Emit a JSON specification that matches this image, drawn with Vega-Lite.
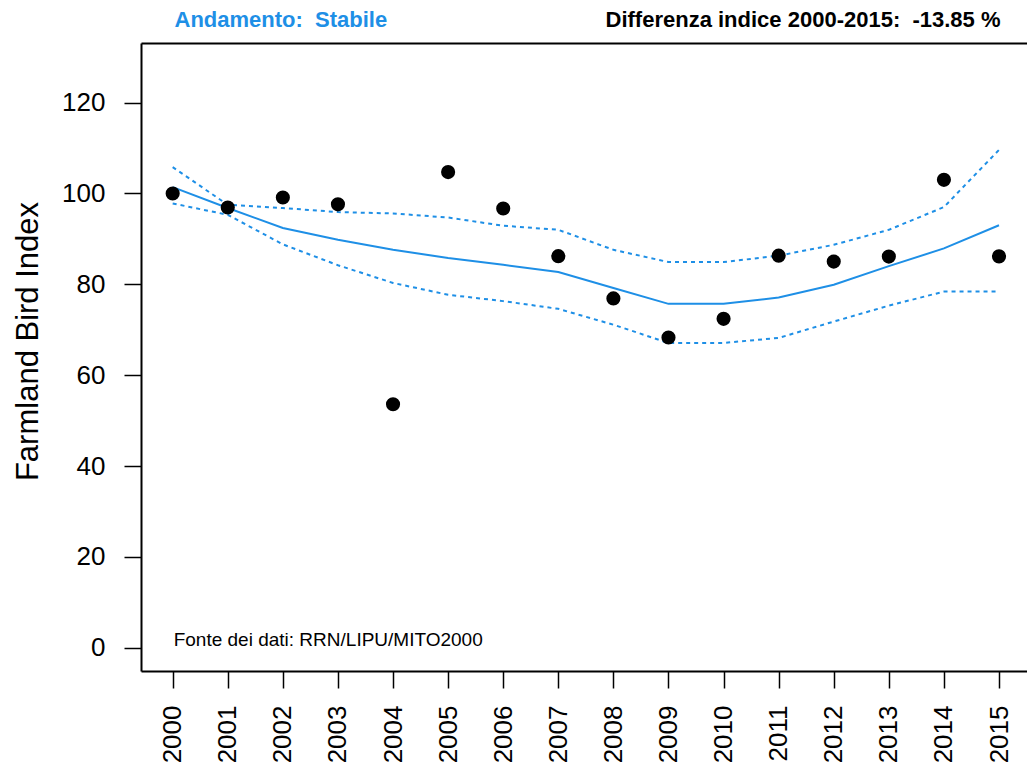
{
  "$schema": "https://vega.github.io/schema/vega-lite/v6.json",
  "width": 886,
  "height": 628,
  "autosize": {"type": "none"},
  "padding": {"left": 141, "top": 43, "right": 0, "bottom": 98},
  "background": "white",
  "config": {
    "view": {"stroke": null},
    "font": "Liberation Sans",
    "axis": {"labelFont": "Liberation Sans", "titleFont": "Liberation Sans", "grid": false}
  },
  "datasets": {
    "fbi": [
      {"year": 2000, "index": 100.0, "trend": 101.4, "lower": 97.8, "upper": 105.8},
      {"year": 2001, "index": 96.9, "trend": 96.8, "lower": 95.3, "upper": 97.5},
      {"year": 2002, "index": 99.1, "trend": 92.4, "lower": 88.8, "upper": 96.8},
      {"year": 2003, "index": 97.6, "trend": 89.8, "lower": 84.2, "upper": 95.9},
      {"year": 2004, "index": 53.6, "trend": 87.6, "lower": 80.3, "upper": 95.6},
      {"year": 2005, "index": 104.7, "trend": 85.8, "lower": 77.7, "upper": 94.7},
      {"year": 2006, "index": 96.7, "trend": 84.3, "lower": 76.3, "upper": 92.9},
      {"year": 2007, "index": 86.2, "trend": 82.7, "lower": 74.6, "upper": 92.0},
      {"year": 2008, "index": 76.9, "trend": 79.2, "lower": 71.1, "upper": 87.6},
      {"year": 2009, "index": 68.3, "trend": 75.7, "lower": 67.1, "upper": 84.9},
      {"year": 2010, "index": 72.4, "trend": 75.7, "lower": 67.1, "upper": 84.9},
      {"year": 2011, "index": 86.3, "trend": 77.1, "lower": 68.2, "upper": 86.3},
      {"year": 2012, "index": 85.0, "trend": 79.9, "lower": 71.8, "upper": 88.7},
      {"year": 2013, "index": 86.1, "trend": 84.0, "lower": 75.3, "upper": 92.0},
      {"year": 2014, "index": 103.0, "trend": 87.9, "lower": 78.4, "upper": 97.0},
      {"year": 2015, "index": 86.15, "trend": 93.0, "lower": 78.4, "upper": 109.6}
    ],
    "note": [
      {"label": "Fonte dei dati: RRN/LIPU/MITO2000"}
    ]
  },
  "layer": [
    {
      "data": {"name": "fbi"},
      "mark": {"type": "line", "color": "#1E8FE6", "strokeWidth": 2},
      "encoding": {
        "x": {
          "field": "year", "type": "quantitative",
          "scale": {"domain": [1999.425, 2015.508], "nice": false, "zero": false},
          "axis": {
            "orient": "bottom",
            "values": [2000, 2001, 2002, 2003, 2004, 2005, 2006, 2007, 2008, 2009, 2010, 2011, 2012, 2013, 2014, 2015],
            "format": "d",
            "title": null,
            "domain": true, "domainColor": "black", "domainWidth": 2,
            "ticks": true, "tickColor": "black", "tickWidth": 1.5, "tickSize": 17,
            "labelAngle": 270, "labelAlign": "right", "labelBaseline": "middle",
            "labelFontSize": 26, "labelColor": "black", "labelPadding": 17,
            "labelOverlap": false, "labelFlush": false
          }
        },
        "y": {
          "field": "trend", "type": "quantitative",
          "scale": {"domain": [-5.12, 133.12], "nice": false, "zero": false},
          "axis": {
            "orient": "left",
            "values": [0, 20, 40, 60, 80, 100, 120],
            "title": "Farmland Bird Index",
            "titleFontSize": 31, "titleFontWeight": "normal", "titleColor": "black",
            "titleAngle": 270, "titleX": -104, "titleY": 298,
            "titleAlign": "center", "titleBaseline": "alphabetic",
            "domain": true, "domainColor": "black", "domainWidth": 2,
            "ticks": true, "tickColor": "black", "tickWidth": 1.5, "tickSize": 17,
            "labelFontSize": 26, "labelColor": "black", "labelPadding": 19,
            "labelOverlap": false, "labelFlush": false
          }
        }
      }
    },
    {
      "data": {"name": "fbi"},
      "mark": {"type": "line", "color": "#1E8FE6", "strokeWidth": 2, "strokeDash": [4, 4]},
      "encoding": {
        "x": {
          "field": "year", "type": "quantitative",
          "scale": {"domain": [1999.425, 2015.508], "nice": false, "zero": false},
          "axis": {
            "orient": "top",
            "title": "Differenza indice 2000-2015:\u00a0 -13.85 %",
            "titleFontSize": 22, "titleFontWeight": "bold", "titleColor": "black",
            "titleX": 859, "titleY": -17, "titleAlign": "right", "titleBaseline": "alphabetic",
            "domain": true, "domainColor": "black", "domainWidth": 2,
            "ticks": false, "labels": false
          }
        },
        "y": {
          "field": "upper", "type": "quantitative",
          "scale": {"domain": [-5.12, 133.12], "nice": false, "zero": false},
          "axis": {
            "orient": "right",
            "title": "Andamento:\u00a0 Stabile",
            "titleFontSize": 22, "titleFontWeight": "bold", "titleColor": "#1E8FE6",
            "titleAngle": 0, "titleX": -853, "titleY": -17, "titleAlign": "left", "titleBaseline": "alphabetic",
            "domain": false, "ticks": false, "labels": false
          }
        }
      }
    },
    {
      "data": {"name": "fbi"},
      "mark": {"type": "line", "color": "#1E8FE6", "strokeWidth": 2, "strokeDash": [4, 4]},
      "encoding": {
        "x": {"field": "year", "type": "quantitative", "scale": {"domain": [1999.425, 2015.508], "nice": false, "zero": false}, "axis": null},
        "y": {"field": "lower", "type": "quantitative", "scale": {"domain": [-5.12, 133.12], "nice": false, "zero": false}, "axis": null}
      }
    },
    {
      "data": {"name": "fbi"},
      "mark": {"type": "point", "filled": true, "color": "black", "opacity": 1, "size": 200},
      "encoding": {
        "x": {"field": "year", "type": "quantitative", "scale": {"domain": [1999.425, 2015.508], "nice": false, "zero": false}, "axis": null},
        "y": {"field": "index", "type": "quantitative", "scale": {"domain": [-5.12, 133.12], "nice": false, "zero": false}, "axis": null}
      }
    },
    {
      "data": {"name": "note"},
      "mark": {"type": "text", "align": "left", "baseline": "alphabetic", "fontSize": 19, "color": "black", "font": "Liberation Sans", "dx": 1},
      "encoding": {
        "x": {"datum": 2000, "type": "quantitative", "axis": null},
        "y": {"datum": 0.3, "type": "quantitative", "axis": null},
        "text": {"field": "label"}
      }
    }
  ]
}
